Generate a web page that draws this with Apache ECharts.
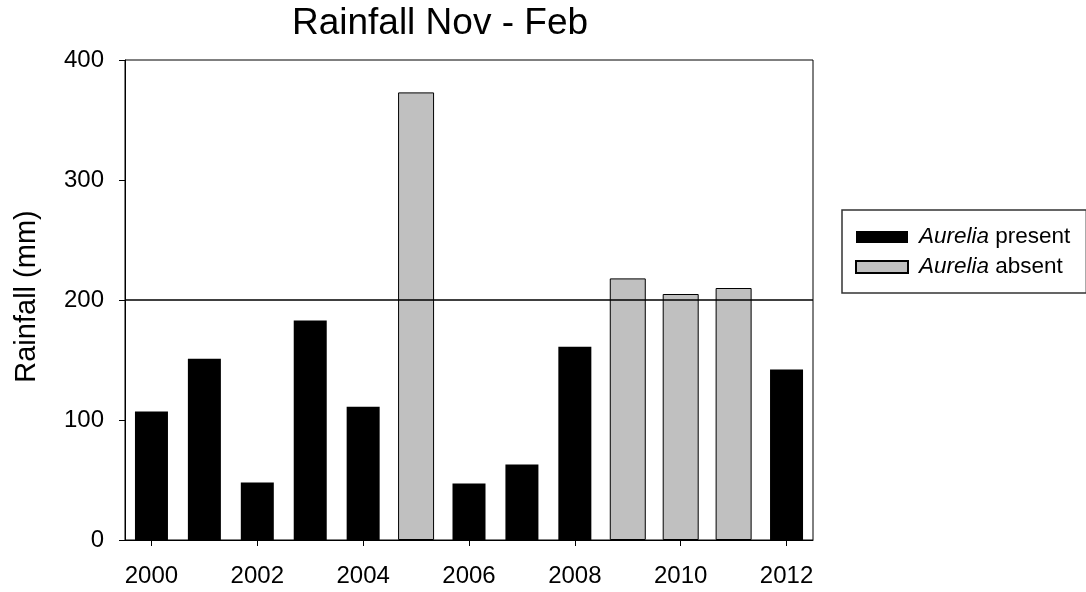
<!DOCTYPE html>
<html>
<head>
<meta charset="utf-8">
<script src="https://cdn.jsdelivr.net/npm/echarts@6/dist/echarts.min.js"></script>
<style>
html,body{margin:0;padding:0;background:#fff;}
#chart{width:1086px;height:592px;}
</style>
</head>
<body>
<div id="chart"></div>
<script>
const years = ['2000','2001','2002','2003','2004','2005','2006','2007','2008','2009','2010','2011','2012'];
const present = [107, 151, 48, 183, 111, null, 47, 63, 161, null, null, null, 142];
const absent  = [null, null, null, null, null, 373, null, null, null, 218, 205, 210, null];
const yTicks = [0, 100, 200, 300, 400];
const threshold = 200;

const FONT = 'Liberation Sans, Arial, sans-serif';
const chart = echarts.init(document.getElementById('chart'), null, {renderer: 'canvas'});
const xCommon = {
  type: 'category',
  data: years,
  boundaryGap: true,
  position: 'bottom'
};
chart.setOption({
  animation: false,
  backgroundColor: '#fff',
  title: {
    text: 'Rainfall Nov - Feb',
    left: 435, top: 0, textAlign: 'center',
    textStyle: {fontFamily: FONT, fontSize: 37, fontWeight: 'normal', color: '#000'}
  },
  grid: {left: 125, right: 273, top: 60, bottom: 52, show: true, borderColor: '#000', borderWidth: 1, backgroundColor: 'transparent'},
  legend: {
    orient: 'vertical',
    left: 842, top: 210,
    padding: [15, 16, 14, 13],
    borderColor: '#333', borderWidth: 1.5,
    itemWidth: 52, itemHeight: 12, itemGap: 6,
    icon: 'rect',
    data: ['Aurelia present', 'Aurelia absent'],
    formatter: function (n) { return '{i|Aurelia}' + n.replace('Aurelia', ''); },
    textStyle: {fontFamily: FONT, fontSize: 22.5, color: '#000', lineHeight: 24, padding: [0, 0, 0, 6],
      rich: {i: {fontStyle: 'italic', fontFamily: FONT, fontSize: 22.5, color: '#000'}}}
  },
  xAxis: [
    Object.assign({}, xCommon, {
      axisLine: {show: true, lineStyle: {color: '#000', width: 1}},
      axisTick: {show: true, alignWithLabel: true, interval: 1, length: 6, lineStyle: {color: '#000'}},
      axisLabel: {interval: 1, margin: 24, color: '#000', fontFamily: FONT, fontSize: 24},
      splitLine: {show: false}
    }),
    Object.assign({}, xCommon, {show: false})
  ],
  yAxis: {
    type: 'value', min: 0, max: 400, interval: 100,
    name: 'Rainfall (mm)', nameLocation: 'middle', nameGap: 84,
    nameTextStyle: {fontFamily: FONT, fontSize: 29, color: '#000', padding: [0, 0, 0, 7]},
    axisLine: {show: true, lineStyle: {color: '#000', width: 1}},
    axisTick: {show: true, length: 6, lineStyle: {color: '#000'}},
    axisLabel: {margin: 21, color: '#000', fontFamily: FONT, fontSize: 24,
      formatter: function (v) { return yTicks.indexOf(v) >= 0 ? String(v) : ''; }},
    splitLine: {show: false}
  },
  series: [
    {
      name: 'Aurelia present', type: 'bar', xAxisIndex: 0, data: present,
      barWidth: 33,
      itemStyle: {color: '#000'},
      markLine: {
        silent: true, symbol: 'none', label: {show: false},
        lineStyle: {color: '#000', width: 1.5, type: 'solid'},
        data: [{yAxis: threshold}], z: 10
      }
    },
    {
      name: 'Aurelia absent', type: 'bar', xAxisIndex: 1, data: absent,
      barWidth: 36,
      itemStyle: {color: '#c0c0c0', borderColor: '#000', borderWidth: 1}
    }
  ]
});
</script>
</body>
</html>
